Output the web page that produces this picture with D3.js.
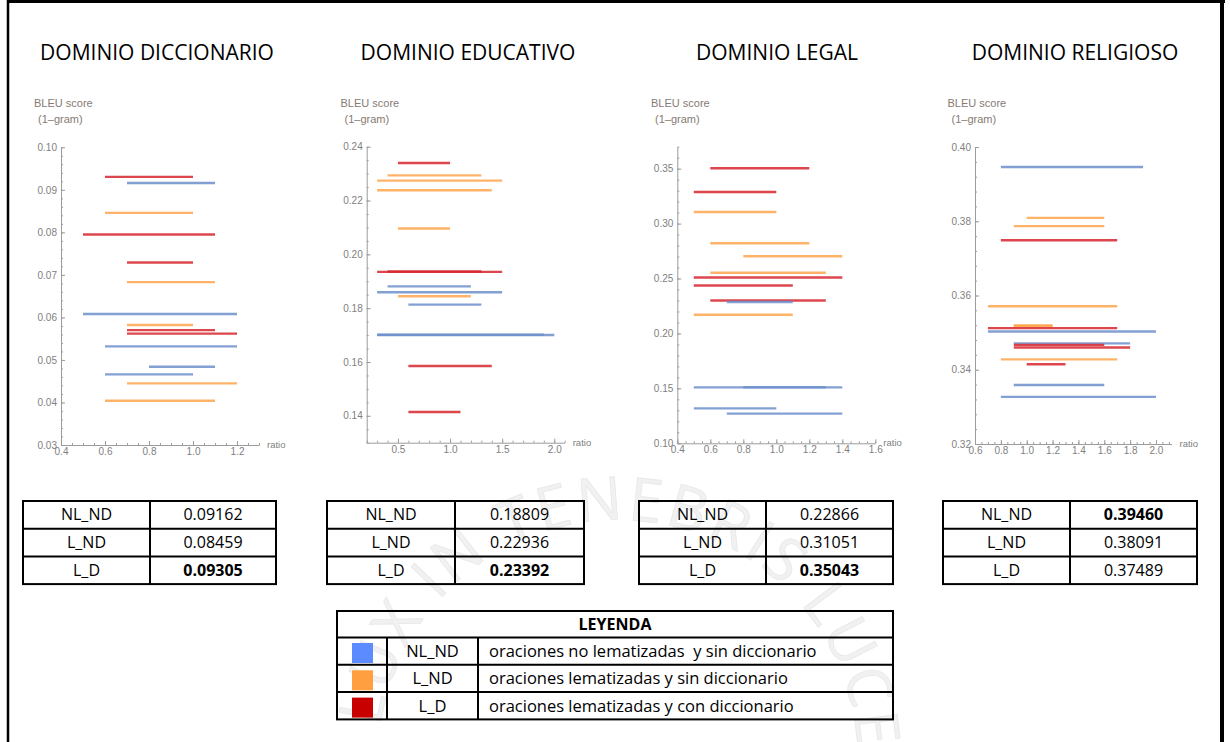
<!DOCTYPE html>
<html>
<head>
<meta charset="utf-8">
<script src="https://cdn.jsdelivr.net/npm/d3@7"></script>
<style>
  body { margin: 0; background: #fff; }
  svg { display: block; }
</style>
</head>
<body>
<svg id="chart" width="1230" height="742"></svg>
<script>
// ---- data ----
const seriesKeys = ["NL_ND", "L_ND", "L_D"];
const seriesColors = ["#6d8fcb", "#ffa64d", "#d7262e"];
const legendColors = ["#5b8bff", "#ff9f3f", "#c80000"];
const legendTexts = [
  "oraciones no lematizadas  y sin diccionario",
  "oraciones lematizadas y sin diccionario",
  "oraciones lematizadas y con diccionario"
];
const domainTitles = ["DOMINIO DICCIONARIO", "DOMINIO EDUCATIVO", "DOMINIO LEGAL", "DOMINIO RELIGIOSO"];

// [series, BLEU score, ratio from, ratio to]
const diccionarioRuns = [
  ["L_D", 0.09305, 0.6, 1.0], ["NL_ND", 0.09162, 0.7, 1.1], ["L_ND", 0.08459, 0.6, 1.0],
  ["L_D", 0.0795, 0.5, 1.1], ["L_D", 0.0729, 0.7, 1.0], ["L_ND", 0.0683, 0.7, 1.1],
  ["NL_ND", 0.0608, 0.5, 1.2], ["L_ND", 0.0582, 0.7, 1.0], ["L_D", 0.0570, 0.7, 1.1],
  ["L_D", 0.0562, 0.7, 1.2], ["NL_ND", 0.0532, 0.6, 1.2], ["NL_ND", 0.0484, 0.8, 1.1],
  ["NL_ND", 0.0466, 0.6, 1.0], ["L_ND", 0.0445, 0.7, 1.2], ["L_ND", 0.0404, 0.6, 1.1]
];
const educativoRuns = [
  ["L_D", 0.23392, 0.5, 1.0], ["L_ND", 0.22936, 0.4, 1.3], ["L_ND", 0.2274, 0.3, 1.5],
  ["L_ND", 0.2238, 0.3, 1.4], ["L_ND", 0.2096, 0.5, 1.0], ["L_D", 0.1935, 0.3, 1.5],
  ["L_D", 0.1936, 0.4, 1.3], ["NL_ND", 0.18809, 0.4, 1.2], ["NL_ND", 0.1859, 0.3, 1.5],
  ["L_ND", 0.1844, 0.5, 1.2], ["NL_ND", 0.1813, 0.6, 1.3], ["NL_ND", 0.1700, 0.3, 2.0],
  ["NL_ND", 0.1701, 0.3, 1.9], ["L_D", 0.1585, 0.6, 1.4], ["L_D", 0.1414, 0.6, 1.1]
];
const legalRuns = [
  ["L_D", 0.35043, 0.6, 1.2], ["L_D", 0.3288, 0.5, 1.0], ["L_ND", 0.31051, 0.5, 1.0],
  ["L_ND", 0.2821, 0.6, 1.2], ["L_ND", 0.2703, 0.8, 1.4], ["L_ND", 0.2552, 0.6, 1.3],
  ["L_D", 0.2509, 0.5, 1.4], ["L_D", 0.2436, 0.5, 1.1], ["L_D", 0.2300, 0.6, 1.3],
  ["NL_ND", 0.22866, 0.7, 1.1], ["L_ND", 0.2170, 0.5, 1.1], ["NL_ND", 0.1509, 0.5, 1.4],
  ["NL_ND", 0.1510, 0.8, 1.3], ["NL_ND", 0.1318, 0.5, 1.0], ["NL_ND", 0.1270, 0.7, 1.4]
];
const religiosoRuns = [
  ["NL_ND", 0.39460, 0.8, 1.9], ["L_ND", 0.38091, 1.0, 1.6], ["L_ND", 0.3787, 0.9, 1.6],
  ["L_D", 0.37489, 0.8, 1.7], ["L_ND", 0.3571, 0.7, 1.7], ["L_ND", 0.3518, 0.9, 1.2],
  ["L_ND", 0.3519, 0.9, 1.2], ["L_D", 0.3512, 0.7, 1.7], ["NL_ND", 0.3503, 0.7, 2.0],
  ["NL_ND", 0.3471, 0.9, 1.8], ["L_D", 0.3467, 0.9, 1.6], ["L_D", 0.3460, 0.9, 1.8],
  ["L_ND", 0.3428, 0.8, 1.7], ["L_D", 0.3415, 1.0, 1.3], ["NL_ND", 0.3359, 0.9, 1.6],
  ["NL_ND", 0.3327, 0.8, 2.0]
];

// best score per series (NL_ND, L_ND, L_D)
const diccionarioBest = [0.09162, 0.08459, 0.09305];
const educativoBest = [0.18809, 0.22936, 0.23392];
const legalBest = [0.22866, 0.31051, 0.35043];
const religiosoBest = [0.39460, 0.38091, 0.37489];

// axis ticks
const diccionarioTicks = { x: [0.4, 0.6, 0.8, 1.0, 1.2], y: [0.03, 0.04, 0.05, 0.06, 0.07, 0.08, 0.09, 0.10] };
const educativoTicks = { x: [0.5, 1.0, 1.5, 2.0], y: [0.14, 0.16, 0.18, 0.20, 0.22, 0.24] };
const legalTicks = { x: [0.4, 0.6, 0.8, 1.0, 1.2, 1.4, 1.6], y: [0.10, 0.15, 0.20, 0.25, 0.30, 0.35] };
const religiosoTicks = { x: [0.6, 0.8, 1.0, 1.2, 1.4, 1.6, 1.8, 2.0], y: [0.32, 0.34, 0.36, 0.38, 0.40] };

// ---- layout ----
const svg = d3.select("#chart");
const color = d3.scaleOrdinal(seriesKeys, seriesColors);
const legendColor = d3.scaleOrdinal(seriesKeys, legendColors);

const panels = [
  { runs: diccionarioRuns, best: diccionarioBest, ticks: diccionarioTicks,
    xd: [0.4, 1.3], xr: [61, 259], yd: [0.03, 0.10], yr: [445, 147.3],
    xMinor: 0.05, yMinor: 0.002, titleX: 157, labelX: 34, table: [23, 150, 276] },
  { runs: educativoRuns, best: educativoBest, ticks: educativoTicks,
    xd: [0.2, 2.1], xr: [366.7, 564.7], yd: [0.13, 0.24], yr: [442.7, 146.7],
    xMinor: 0.1, yMinor: 0.005, titleX: 468, labelX: 340.5, table: [327, 455, 584] },
  { runs: legalRuns, best: legalBest, ticks: legalTicks,
    xd: [0.4, 1.6], xr: [677.3, 875.3], yd: [0.10, 0.37], yr: [443.3, 146.7],
    xMinor: 0.05, yMinor: 0.01, titleX: 777, labelX: 651, table: [639, 766, 893] },
  { runs: religiosoRuns, best: religiosoBest, ticks: religiosoTicks,
    xd: [0.6, 2.12], xr: [975, 1171.5], yd: [0.32, 0.40], yr: [444, 147],
    xMinor: 0.05, yMinor: 0.004, titleX: 1075, labelX: 947.5, table: [943, 1070, 1197] }
];

// ---- faint seal watermark ----
const wm = svg.append("g");
const cx = 618, cy = 760, r = 240;
const a0 = 172 * Math.PI / 180, a1 = -8 * Math.PI / 180;
const p0 = [cx + r * Math.cos(a0), cy - r * Math.sin(a0)];
const p1 = [cx + r * Math.cos(a1), cy - r * Math.sin(a1)];
wm.append("path").attr("id", "sealArc").attr("fill", "none")
  .attr("d", `M${p0[0]},${p0[1]} A${r},${r} 0 0 1 ${p1[0]},${p1[1]}`);
wm.append("text")
  .attr("font-family", "'Open Sans', sans-serif").attr("font-size", 60)
  .attr("fill", "#f1f1f1").attr("stroke", "#e8e8e8").attr("stroke-width", 0.8)
  .append("textPath").attr("href", "#sealArc")
  .attr("textLength", r * (a0 - a1) - 10).attr("lengthAdjust", "spacing")
  .text("LUX IN TENEBRIS LUCET");

// ---- frame ----
svg.append("line").attr("x1", 7).attr("x2", 1225).attr("y1", 1.5).attr("y2", 1.5)
  .attr("stroke", "#000").attr("stroke-width", 3);
svg.append("line").attr("x1", 8).attr("x2", 8).attr("y1", 0).attr("y2", 742)
  .attr("stroke", "#000").attr("stroke-width", 2.5);
svg.append("line").attr("x1", 1222).attr("x2", 1222).attr("y1", 0).attr("y2", 742)
  .attr("stroke", "#000").attr("stroke-width", 4);

// ---- panels ----
const fontUI = "'Open Sans', sans-serif";
const fontPlot = "'Liberation Sans', Arial, sans-serif";
const fmt2 = d3.format(".2f"), fmt1 = d3.format(".1f");

const stepValues = (d, step) => {
  const out = [];
  for (let k = Math.ceil(d[0] / step - 1e-6); k * step <= d[1] + 1e-9; k++) out.push(+(k * step).toFixed(6));
  return out;
};

panels.forEach((p, i) => {
  svg.append("text").attr("x", p.titleX).attr("y", 60)
    .attr("text-anchor", "middle").attr("font-family", fontUI).attr("font-size", 21)
    .attr("fill", "#000").text(domainTitles[i]);

  const g = svg.append("g");
  g.append("rect").attr("x", p.labelX - 8).attr("y", 88)
    .attr("width", p.xr[1] - p.labelX + 55).attr("height", 372).attr("fill", "#fff");

  const x = d3.scaleLinear(p.xd, p.xr);
  const y = d3.scaleLinear(p.yd, p.yr);

  // minor ticks
  g.append("g").attr("transform", `translate(0,${p.yr[0]})`)
    .call(d3.axisBottom(x).tickValues(stepValues(p.xd, p.xMinor)).tickSize(-2).tickFormat(""))
    .call(s => s.select(".domain").remove());
  g.append("g").attr("transform", `translate(${p.xr[0]},0)`)
    .call(d3.axisLeft(y).tickValues(stepValues(p.yd, p.yMinor)).tickSize(-2).tickFormat(""))
    .call(s => s.select(".domain").remove());

  // major ticks with labels
  g.append("g").attr("transform", `translate(0,${p.yr[0]})`)
    .call(d3.axisBottom(x).tickValues(p.ticks.x).tickSize(-4).tickSizeOuter(0).tickPadding(3).tickFormat(fmt1));
  g.append("g").attr("transform", `translate(${p.xr[0]},0)`)
    .call(d3.axisLeft(y).tickValues(p.ticks.y).tickSize(-4).tickSizeOuter(0).tickPadding(4).tickFormat(fmt2));

  g.selectAll("path.domain, line").attr("stroke", "#9c9c9c").attr("stroke-width", 1);
  g.selectAll(".tick text").attr("fill", "#808080").attr("font-family", fontPlot).attr("font-size", 10);

  // axis captions
  g.append("text").attr("x", p.xr[1] + 8).attr("y", p.yr[0] + 3)
    .attr("font-family", fontPlot).attr("font-size", 9.5).attr("fill", "#808080").text("ratio");
  g.append("text").attr("x", p.labelX).attr("y", 107)
    .attr("font-family", fontPlot).attr("font-size", 11).attr("fill", "#857a74").text("BLEU score");
  g.append("text").attr("x", p.labelX + 4).attr("y", 123)
    .attr("font-family", fontPlot).attr("font-size", 11).attr("fill", "#857a74").text("(1\u2013gram)");

  // segments
  g.append("g").selectAll("line").data(p.runs).join("line")
    .attr("x1", d => x(d[2])).attr("x2", d => x(d[3]))
    .attr("y1", d => y(d[1])).attr("y2", d => y(d[1]))
    .attr("stroke", d => color(d[0])).attr("stroke-width", 2.4).attr("stroke-opacity", 0.85);

  // score table
  const [tl, tm, tr] = p.table;
  const top = 501, rh = 27.7;
  const best = d3.max(p.best);
  const tg = svg.append("g");
  seriesKeys.forEach((k, j) => {
    const yy = top + j * rh;
    tg.append("text").attr("x", (tl + tm) / 2).attr("y", yy + rh / 2 + 5.5)
      .attr("text-anchor", "middle").attr("font-family", fontUI).attr("font-size", 16).text(k);
    tg.append("text").attr("x", (tm + tr) / 2).attr("y", yy + rh / 2 + 5.5)
      .attr("text-anchor", "middle").attr("font-family", fontUI).attr("font-size", 16)
      .attr("font-weight", p.best[j] === best ? "bold" : "normal")
      .text(d3.format(".5f")(p.best[j]));
    if (j > 0) tg.append("line").attr("x1", tl).attr("x2", tr).attr("y1", yy).attr("y2", yy)
      .attr("stroke", "#000").attr("stroke-width", 2);
  });
  tg.append("line").attr("x1", tm).attr("x2", tm).attr("y1", top).attr("y2", top + 3 * rh)
    .attr("stroke", "#000").attr("stroke-width", 2);
  tg.append("rect").attr("x", tl).attr("y", top).attr("width", tr - tl).attr("height", 3 * rh)
    .attr("fill", "none").attr("stroke", "#000").attr("stroke-width", 2);
});

// ---- legend table ----
const lg = svg.append("g");
const L = { x0: 337, x1: 387, x2: 478, x3: 893, top: 611, head: 26.5, rh: 27.3 };
lg.append("text").attr("x", (L.x0 + L.x3) / 2).attr("y", L.top + 19)
  .attr("text-anchor", "middle").attr("font-family", fontUI).attr("font-size", 16)
  .attr("font-weight", "bold").text("LEYENDA");
seriesKeys.forEach((k, j) => {
  const yy = L.top + L.head + j * L.rh;
  lg.append("line").attr("x1", L.x0).attr("x2", L.x3).attr("y1", yy).attr("y2", yy)
    .attr("stroke", "#000").attr("stroke-width", 2);
  lg.append("rect").attr("x", 352).attr("y", yy + 5.5).attr("width", 21).attr("height", 20)
    .attr("fill", legendColor(k));
  lg.append("text").attr("x", (L.x1 + L.x2) / 2).attr("y", yy + 19.5)
    .attr("text-anchor", "middle").attr("font-family", fontUI).attr("font-size", 16.5).text(k);
  lg.append("text").attr("x", 489).attr("y", yy + 19.5).style("white-space", "pre")
    .attr("font-family", fontUI).attr("font-size", 16.5).text(legendTexts[j]);
});
const lBottom = L.top + L.head + 3 * L.rh;
[L.x1, L.x2].forEach(xv => lg.append("line").attr("x1", xv).attr("x2", xv)
  .attr("y1", L.top + L.head).attr("y2", lBottom).attr("stroke", "#000").attr("stroke-width", 2));
lg.append("rect").attr("x", L.x0).attr("y", L.top).attr("width", L.x3 - L.x0).attr("height", lBottom - L.top)
  .attr("fill", "none").attr("stroke", "#000").attr("stroke-width", 2);
</script>
</body>
</html>
